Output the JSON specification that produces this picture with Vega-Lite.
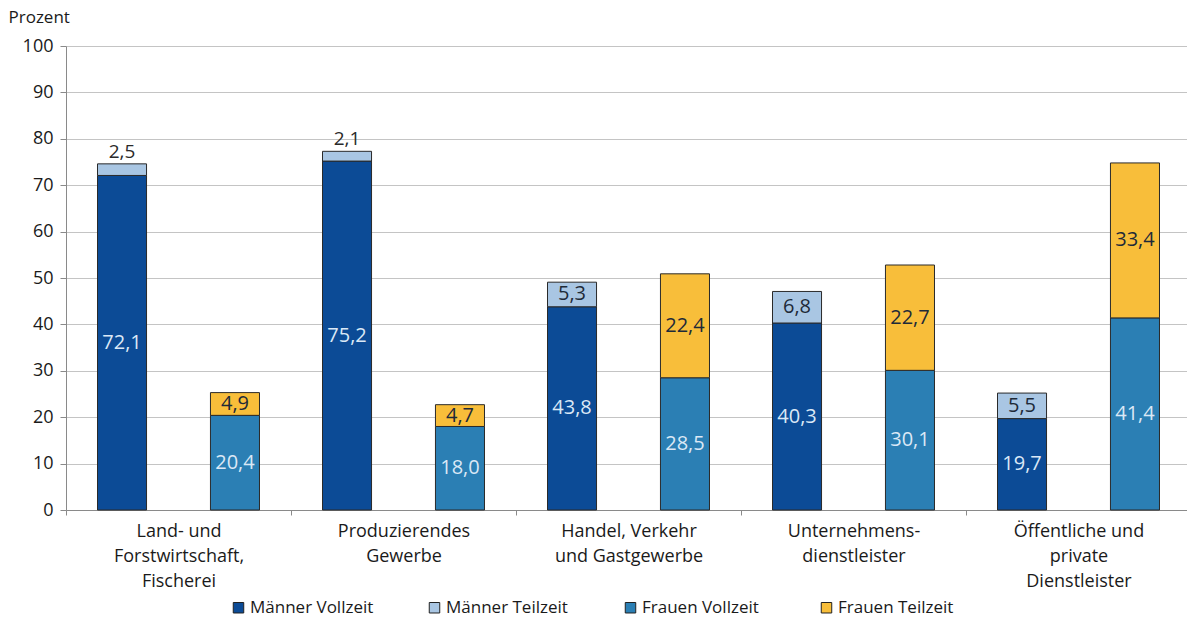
{
  "$schema": "https://vega.github.io/schema/vega-lite/v6.json",
  "width": 1125,
  "height": 464,
  "autosize": {"type": "none"},
  "padding": {"left": 66, "top": 46, "right": 0, "bottom": 108},
  "background": "#ffffff",
  "data": {
    "values": [
      {"cat": "Land- und|Forstwirtschaft,|Fischerei", "gender": "Männer", "part": "Vollzeit", "series": "Männer Vollzeit", "value": 72.1},
      {"cat": "Land- und|Forstwirtschaft,|Fischerei", "gender": "Männer", "part": "Teilzeit", "series": "Männer Teilzeit", "value": 2.5},
      {"cat": "Land- und|Forstwirtschaft,|Fischerei", "gender": "Frauen", "part": "Vollzeit", "series": "Frauen Vollzeit", "value": 20.4},
      {"cat": "Land- und|Forstwirtschaft,|Fischerei", "gender": "Frauen", "part": "Teilzeit", "series": "Frauen Teilzeit", "value": 4.9},
      {"cat": "Produzierendes|Gewerbe", "gender": "Männer", "part": "Vollzeit", "series": "Männer Vollzeit", "value": 75.2},
      {"cat": "Produzierendes|Gewerbe", "gender": "Männer", "part": "Teilzeit", "series": "Männer Teilzeit", "value": 2.1},
      {"cat": "Produzierendes|Gewerbe", "gender": "Frauen", "part": "Vollzeit", "series": "Frauen Vollzeit", "value": 18.0},
      {"cat": "Produzierendes|Gewerbe", "gender": "Frauen", "part": "Teilzeit", "series": "Frauen Teilzeit", "value": 4.7},
      {"cat": "Handel, Verkehr|und Gastgewerbe", "gender": "Männer", "part": "Vollzeit", "series": "Männer Vollzeit", "value": 43.8},
      {"cat": "Handel, Verkehr|und Gastgewerbe", "gender": "Männer", "part": "Teilzeit", "series": "Männer Teilzeit", "value": 5.3},
      {"cat": "Handel, Verkehr|und Gastgewerbe", "gender": "Frauen", "part": "Vollzeit", "series": "Frauen Vollzeit", "value": 28.5},
      {"cat": "Handel, Verkehr|und Gastgewerbe", "gender": "Frauen", "part": "Teilzeit", "series": "Frauen Teilzeit", "value": 22.4},
      {"cat": "Unternehmens-|dienstleister", "gender": "Männer", "part": "Vollzeit", "series": "Männer Vollzeit", "value": 40.3},
      {"cat": "Unternehmens-|dienstleister", "gender": "Männer", "part": "Teilzeit", "series": "Männer Teilzeit", "value": 6.8},
      {"cat": "Unternehmens-|dienstleister", "gender": "Frauen", "part": "Vollzeit", "series": "Frauen Vollzeit", "value": 30.1},
      {"cat": "Unternehmens-|dienstleister", "gender": "Frauen", "part": "Teilzeit", "series": "Frauen Teilzeit", "value": 22.7},
      {"cat": "Öffentliche und|private|Dienstleister", "gender": "Männer", "part": "Vollzeit", "series": "Männer Vollzeit", "value": 19.7},
      {"cat": "Öffentliche und|private|Dienstleister", "gender": "Männer", "part": "Teilzeit", "series": "Männer Teilzeit", "value": 5.5},
      {"cat": "Öffentliche und|private|Dienstleister", "gender": "Frauen", "part": "Vollzeit", "series": "Frauen Vollzeit", "value": 41.4},
      {"cat": "Öffentliche und|private|Dienstleister", "gender": "Frauen", "part": "Teilzeit", "series": "Frauen Teilzeit", "value": 33.4}
    ]
  },
  "transform": [
    {"stack": "value", "groupby": ["cat", "gender"], "sort": [{"field": "part", "order": "descending"}], "as": ["y0", "y1"]},
    {"calculate": "(datum.y0 + datum.y1) / 2", "as": "ymid"}
  ],
  "encoding": {
    "x": {
      "field": "cat", "type": "nominal", "sort": null,
      "scale": {"paddingInner": 0, "paddingOuter": 0},
      "axis": {
        "title": null, "labelAngle": 0, "labelExpr": "split(datum.label, '|')",
        "tickBand": "extent", "tickSize": 5, "tickColor": "#8a8a8a", "domainColor": "#8a8a8a",
        "labelPadding": 7, "labelLineHeight": 25, "labelFontSize": 18, "labelColor": "#1a1a1a",
        "labelBaseline": "top", "labelLimit": 300
      }
    },
    "xOffset": {
      "field": "gender", "type": "nominal", "sort": ["Männer", "Frauen"],
      "scale": {"paddingInner": 0.566, "paddingOuter": 0.279}
    }
  },
  "layer": [
    {
      "mark": {"type": "bar", "stroke": "#2a2a2a", "strokeWidth": 1},
      "encoding": {
        "y": {
          "field": "y1", "type": "quantitative",
          "scale": {"domain": [0, 100], "nice": false},
          "axis": {
            "title": "Prozent", "titleAngle": 0, "titleX": -58, "titleY": -29, "titleAlign": "left",
            "titleBaseline": "middle", "titleFontWeight": "normal", "titleFontSize": 17, "titleColor": "#1a1a1a",
            "values": [0, 10, 20, 30, 40, 50, 60, 70, 80, 90, 100],
            "tickSize": 6, "tickColor": "#8a8a8a", "domainColor": "#8a8a8a",
            "gridColor": "#c4c4c4", "labelFontSize": 18, "labelColor": "#1a1a1a", "labelPadding": 7
          }
        },
        "y2": {"field": "y0"},
        "color": {
          "field": "series", "type": "nominal",
          "scale": {
            "domain": ["Männer Vollzeit", "Männer Teilzeit", "Frauen Vollzeit", "Frauen Teilzeit"],
            "range": ["#0c4b96", "#a9c6e3", "#2b7fb4", "#f8be3a"]
          },
          "legend": {
            "title": null, "orient": "none", "legendX": 164, "legendY": 553, "direction": "horizontal",
            "symbolType": "square", "symbolSize": 110, "symbolStrokeColor": "#222222", "symbolStrokeWidth": 1,
            "labelFontSize": 17, "labelColor": "#1a1a1a", "labelOffset": 3, "columnPadding": 52, "gridAlign": "all"
          }
        }
      }
    },
    {
      "transform": [{"filter": "datum.value >= 3"}],
      "mark": {"type": "text", "fontSize": 20, "baseline": "middle", "align": "center"},
      "encoding": {
        "y": {"field": "ymid", "type": "quantitative"},
        "text": {"field": "value", "type": "quantitative", "format": ".1f"},
        "color": {"condition": {"test": "datum.part === 'Vollzeit'", "value": "#dbe8f6"}, "value": "#1e2a38"}
      }
    },
    {
      "transform": [{"filter": "datum.value < 3"}],
      "mark": {"type": "text", "fontSize": 19, "baseline": "bottom", "align": "center", "dy": -2, "color": "#2a2a2a"},
      "encoding": {
        "y": {"field": "y1", "type": "quantitative"},
        "text": {"field": "value", "type": "quantitative", "format": ".1f"}
      }
    }
  ],
  "config": {
    "font": "Open Sans",
    "view": {"stroke": null},
    "locale": {"number": {"decimal": ",", "thousands": ".", "grouping": [3], "currency": ["", " €"]}}
  }
}
